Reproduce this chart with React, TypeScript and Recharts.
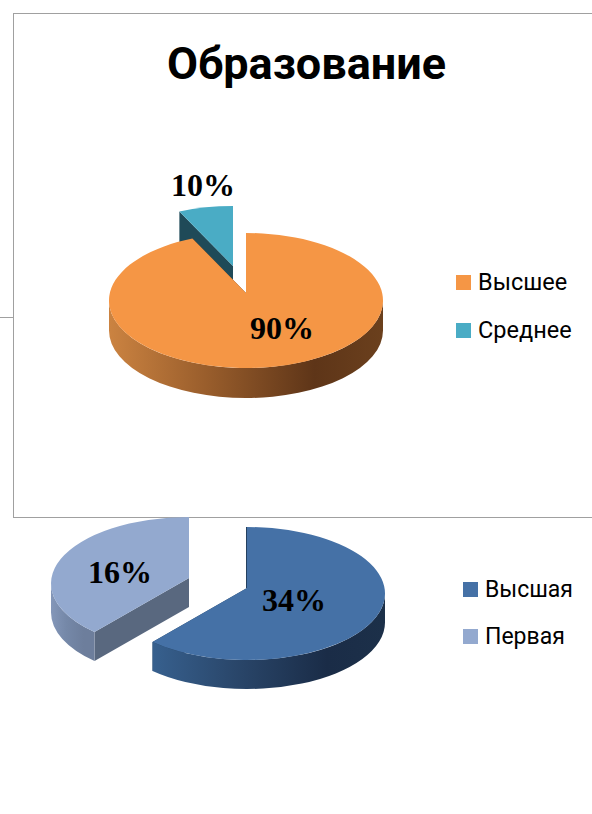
import { Legend, Pie, PieChart } from "recharts";

// Shares are measured from the drawn slices; the printed labels don't add up to them
// (the second chart prints 34% + 16%), so the label text is kept in its own lists.
const educationNames = ["Среднее", "Высшее"];
const educationShares = [6.4, 93.6];
const educationLabels = ["10%", "90%"];

const categoryNames = ["Высшая", "Первая"];
const categoryShares = [62, 38];
const categoryLabels = ["34%", "16%"];

const titleText = "Образование";

const WIDTH = 592;
const HEIGHT = 814;

const educationStyle = {
  id: "edu",
  cx: 246,
  cy: 300.5,
  rx: 137,
  ry: 67.5,
  lift: 7.5,
  depth: 30,
  edgeWidths: [0, 0],
  startAngle: 90,
  endAngle: 450,
  fills: ["#4AACC5", "#F59645"],
  walls: ["#1F4A58", "#6A3E1C"],
  rims: [
    ["#2F7587", "#1F4A58", "#1F4A58", "#1F4A58"],
    ["#CB8341", "#9A5E2C", "#5E3518", "#6B401D"],
  ],
  offsets: [
    [-13, -27],
    [0, 0],
  ],
  labelOffsets: [
    [-43, -116],
    [36, 27],
  ],
  labels: educationLabels,
  legend: { left: 456, top: 258, gap: 48, textGap: 7, fontSize: 23.5 },
};

const categoryStyle = {
  id: "cat",
  cx: 247,
  cy: 593.5,
  rx: 138,
  ry: 66.5,
  lift: 5.5,
  depth: 29,
  edgeWidths: [1, 0],
  startAngle: 90,
  endAngle: -270,
  fills: ["#4571A6", "#93A9CF"],
  walls: ["#24405F", "#59687F"],
  rims: [
    ["#37608E", "#2A476B", "#1A2C47", "#1C3049"],
    ["#8497B9", "#7588A8", "#6D7E9C", "#6D7E9C"],
  ],
  offsets: [
    [0, 0],
    [-58, -10],
  ],
  labelOffsets: [
    [47, 6],
    [-127, -22],
  ],
  labels: categoryLabels,
  legend: { left: 463, top: 566, gap: 47, textGap: 7, fontSize: 23 },
};

type ChartStyle = typeof educationStyle;

function point(cx: number, cy: number, rx: number, ry: number, deg: number) {
  const rad = (deg * Math.PI) / 180;
  return [cx + rx * Math.cos(rad), cy - ry * Math.sin(rad)];
}

// recharts only knows circles, so the sector is redrawn as a tilted disc with a rim
function makeDiscSector(style: ChartStyle, names: string[]) {
  return function DiscSector(props: any) {
    const { cx, cy, startAngle, endAngle, name, fill } = props;
    const i = names.indexOf(name);
    const [dx, dy] = style.offsets[i];
    const { rx, ry, lift, depth } = style;
    const ex = cx + dx;
    const ey = cy + dy;
    const tip = [ex, ey - lift];
    const a = point(ex, ey, rx, ry, startAngle);
    const b = point(ex, ey, rx, ry, endAngle);
    const large = Math.abs(endAngle - startAngle) > 180 ? 1 : 0;
    const sweep = endAngle < startAngle ? 1 : 0;

    const wall = (p: number[]) =>
      `M${tip[0]},${tip[1]} L${p[0]},${p[1]} L${p[0]},${p[1] + depth} L${tip[0]},${tip[1] + depth} Z`;

    // front half of the disc only, that's where the rim shows
    const low = Math.min(startAngle, endAngle);
    const high = Math.max(startAngle, endAngle);
    const rimPaths: string[] = [];
    for (let k = -2; k <= 2; k++) {
      const from = Math.max(low, 180 + 360 * k);
      const to = Math.min(high, 360 + 360 * k);
      if (to <= from) continue;
      const p = point(ex, ey, rx, ry, from);
      const q = point(ex, ey, rx, ry, to);
      rimPaths.push(
        `M${p[0]},${p[1]} A${rx},${ry} 0 0 0 ${q[0]},${q[1]} L${q[0]},${q[1] + depth} A${rx},${ry} 0 0 1 ${p[0]},${p[1] + depth} Z`,
      );
    }

    // the first edge is nearly edge-on, only a hairline of its wall shows
    const edgeTop = `M${a[0] - 0.5},${a[1]} L${tip[0] - 0.5},${tip[1]}`;

    return (
      <g>
        <path d={wall(a)} fill={style.walls[i]} />
        <path d={wall(b)} fill={style.walls[i]} />
        {rimPaths.map((d) => (
          <path key={d} d={d} fill={`url(#${style.id}-rim-${i})`} />
        ))}
        <path
          d={`M${tip[0]},${tip[1]} L${a[0]},${a[1]} A${rx},${ry} 0 ${large} ${sweep} ${b[0]},${b[1]} Z`}
          fill={fill}
        />
        {style.edgeWidths[i] > 0 && (
          <path d={edgeTop} stroke={style.walls[i]} strokeWidth={style.edgeWidths[i]} fill="none" />
        )}
      </g>
    );
  };
}

function makeLabel(style: ChartStyle) {
  return function SliceLabel(props: any) {
    const [dx, dy] = style.labelOffsets[props.index];
    return (
      <text
        x={props.cx + dx}
        y={props.cy + dy}
        textAnchor="middle"
        dominantBaseline="central"
        fontFamily="'Liberation Serif', serif"
        fontWeight="bold"
        fontSize={32}
        fill="#000"
      >
        {style.labels[props.index]}
      </text>
    );
  };
}

function makeLegend(style: ChartStyle) {
  return function DiscLegend(props: any) {
    return (
      <div>
        {(props.payload ?? []).map((item: any) => (
          <div
            key={item.value}
            style={{ display: "flex", alignItems: "center", height: style.legend.gap }}
          >
            <span
              style={{ width: 15, height: 15, background: item.color, marginRight: style.legend.textGap }}
            />
            <span style={{ fontFamily: "Roboto, sans-serif", fontSize: style.legend.fontSize, color: "#000" }}>
              {item.value}
            </span>
          </div>
        ))}
      </div>
    );
  };
}

function Disc({ style, names, shares }: { style: ChartStyle; names: string[]; shares: number[] }) {
  const rows = names.map((name, i) => ({ name, value: shares[i], fill: style.fills[i] }));
  return (
    <div style={{ position: "absolute", left: 0, top: 0 }}>
      <PieChart width={WIDTH} height={HEIGHT} margin={{ left: 0, right: 0, top: 0, bottom: 0 }}>
        <defs>
          {style.rims.map((stops, i) => (
            <linearGradient key={i} id={`${style.id}-rim-${i}`} x1="0" y1="0" x2="1" y2="0">
              <stop offset="0%" stopColor={stops[0]} />
              <stop offset="35%" stopColor={stops[1]} />
              <stop offset="75%" stopColor={stops[2]} />
              <stop offset="100%" stopColor={stops[3]} />
            </linearGradient>
          ))}
        </defs>
        <Pie
          data={rows}
          dataKey="value"
          nameKey="name"
          cx={style.cx}
          cy={style.cy}
          outerRadius={style.rx}
          startAngle={style.startAngle}
          endAngle={style.endAngle}
          shape={makeDiscSector(style, names)}
          label={makeLabel(style)}
          labelLine={false}
          isAnimationActive={false}
        />
        <Legend
          content={makeLegend(style)}
          wrapperStyle={{
            position: "absolute",
            left: style.legend.left,
            top: style.legend.top,
            width: WIDTH - style.legend.left,
            bottom: "auto",
          }}
        />
      </PieChart>
    </div>
  );
}

export default function App() {
  return (
    <div style={{ position: "absolute", left: 0, top: 0, width: WIDTH, height: HEIGHT, overflow: "hidden", background: "#fff" }}>
      <div style={{ position: "absolute", left: 13, top: 13, width: 579, height: 503, borderLeft: "1px solid #a0a0a0", borderTop: "1px solid #a0a0a0", borderBottom: "1px solid #a0a0a0" }} />
      <div style={{ position: "absolute", left: 0, top: 317, width: 13, height: 1, background: "#a0a0a0" }} />
      <div
        style={{
          position: "absolute",
          left: 13,
          top: 34,
          width: 587,
          textAlign: "center",
          fontFamily: "Roboto, sans-serif",
          fontWeight: "bold",
          fontSize: 45,
          lineHeight: "60px",
          color: "#000",
        }}
      >
        {titleText}
      </div>
      <Disc style={educationStyle} names={educationNames} shares={educationShares} />
      <Disc style={categoryStyle} names={categoryNames} shares={categoryShares} />
    </div>
  );
}
